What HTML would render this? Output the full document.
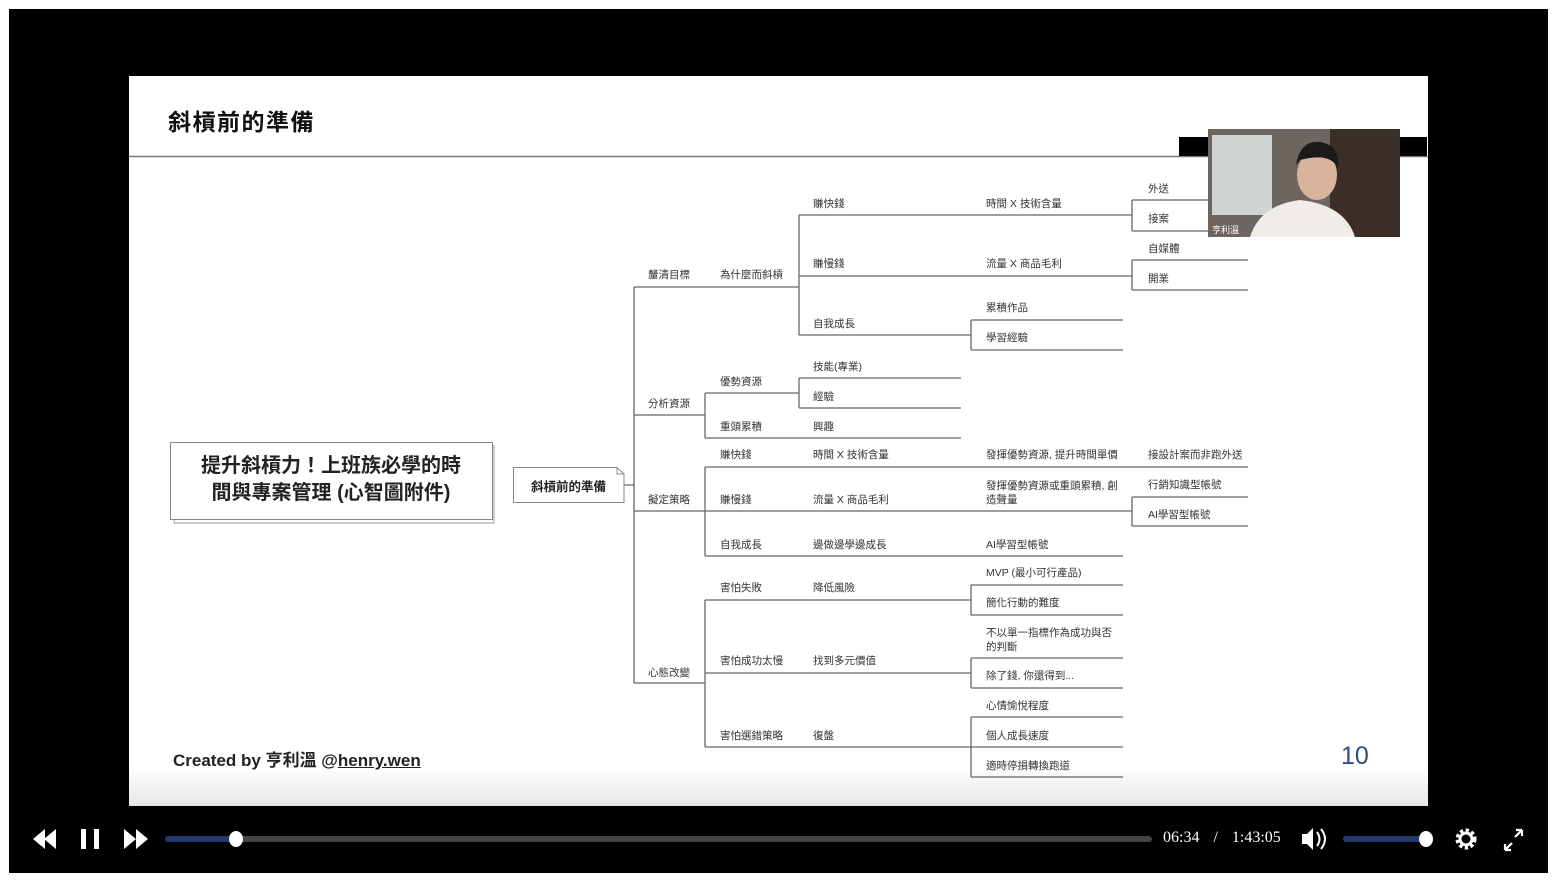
<!DOCTYPE html>
<html><head><meta charset="utf-8"><style>
*{margin:0;padding:0;box-sizing:border-box}
body{width:1558px;height:885px;background:#fff;position:relative;overflow:hidden;font-family:"Liberation Sans","Noto Sans CJK TC",sans-serif}
#blk{position:absolute;left:9px;top:9px;width:1539px;height:864px;background:#000}
#slide{position:absolute;left:129px;top:76px;width:1299px;height:730px;background:#fff;overflow:hidden}
.l{position:absolute;font-size:10.5px;color:#333;line-height:14px;white-space:nowrap;margin-top:1px}
svg{position:absolute;left:0;top:0}
</style></head><body>
<div id="blk"></div>
<div id="slide">
<div style="position:absolute;left:0;right:0;bottom:0;height:40px;background:linear-gradient(#fff,#e6e6e6)"></div>
</div>
<svg width="1558" height="885">
<line x1="129" y1="156.5" x2="1428" y2="156.5" stroke="#777" stroke-width="1.5"/>
<g stroke="#666" stroke-width="1.3" fill="none">
<path d="M634 287V683M624 485H634"/>
<path d="M634 287H799M799 215V335M799 215H1132M1132 200V231M1132 200H1210M1132 231H1248"/>
<path d="M799 276H1132M1132 260V290M1132 260H1248M1132 290H1248"/>
<path d="M799 335H971M971 320V350M971 320H1123M971 350H1123"/>
<path d="M634 415H705M705 393V438M705 393H799M799 378V408M799 378H961M799 408H961M705 438H961"/>
<path d="M634 511H705M705 467V556M705 467H1248M705 511H1132M1132 497V526M1132 497H1248M1132 526H1248M705 556H1123"/>
<path d="M634 683H705M705 600V747M705 600H971M971 585V615M971 585H1123M971 615H1123"/>
<path d="M705 673H971M971 658V688M971 658H1123M971 688H1123"/>
<path d="M705 747H971M971 717V777M971 717H1123M971 747H1123M971 777H1123"/>
</g>
<rect x="174" y="446" width="320" height="77" fill="#fff" stroke="#999"/>
<rect x="170.5" y="442.5" width="322" height="77" fill="#fff" stroke="#888"/>
<path d="M513.5 467.5H617L624 474V502.5H513.5Z" fill="#fff" stroke="#888"/>
<path d="M617 467.5V474H624" fill="none" stroke="#888"/>
<rect x="1179" y="137" width="248" height="19" fill="#000"/>
<rect x="1208" y="129" width="192" height="108" fill="#6d6660"/>
<rect x="1212" y="135" width="60" height="80" fill="#cfd3d3"/>
<rect x="1330" y="129" width="70" height="108" fill="#3b2e26"/>
<path d="M1250 237Q1260 205 1300 200Q1345 205 1355 237Z" fill="#f0ede8"/>
<ellipse cx="1317" cy="175" rx="20" ry="25" fill="#d9b49c"/>
<path d="M1296 165Q1300 140 1320 142Q1340 145 1338 168Q1330 152 1300 160Z" fill="#1c1a18"/>
<text x="1212" y="233" fill="#fff" font-size="9" font-family="Noto Sans CJK TC">亨利溫</text>
<path d="M33 839l12-10v20zM44 839l12-10v20z" fill="#fff"/>
<rect x="81" y="829" width="5" height="20" fill="#fff"/><rect x="94" y="829" width="5" height="20" fill="#fff"/>
<path d="M124 829l12 10-12 10zM136 829l12 10-12 10z" fill="#fff"/>
<rect x="165" y="836" width="987" height="6" rx="3" fill="#444"/>
<rect x="165" y="836" width="71" height="6" rx="3" fill="#1f3a6b"/>
<ellipse cx="236" cy="839" rx="7" ry="8" fill="#fff"/>
<path d="M1302 834h5l6-6v22l-6-6h-5z" fill="#fff"/>
<path d="M1317 832q5 7 0 14M1321 829q8 10 0 20" stroke="#fff" stroke-width="2" fill="none"/>
<rect x="1343" y="836" width="83" height="6" rx="3" fill="#1f3a6b"/>
<ellipse cx="1426" cy="839" rx="7" ry="8" fill="#fff"/>
<circle cx="1466" cy="839" r="8" fill="none" stroke="#fff" stroke-width="5" stroke-dasharray="3 2.3"/>
<circle cx="1466" cy="839" r="6" fill="none" stroke="#fff" stroke-width="3"/>
<path d="M1505 850l7-7M1505 850v-6M1505 850h6M1522 830l-7 7M1522 830v6M1522 830h-6" stroke="#fff" stroke-width="2.2" fill="none"/>
</svg>
<div style="position:absolute;left:168px;top:103px;font-size:23px;letter-spacing:1.5px;font-weight:bold;color:#111">斜槓前的準備</div>
<div style="position:absolute;left:166px;top:453px;width:330px;text-align:center;font-size:20px;font-weight:bold;line-height:27px;color:#222">提升斜槓力！上班族必學的時<br>間與專案管理 (心智圖附件)</div>
<div style="position:absolute;left:513px;top:476px;width:111px;text-align:center;font-size:12.5px;font-weight:bold;color:#222">斜槓前的準備</div>
<div style="position:absolute;left:173px;top:746px;font-size:17px;font-weight:bold;color:#222">Created by 亨利溫 @<span style="text-decoration:underline">henry.wen</span></div>
<div style="position:absolute;left:1341px;top:742px;font-size:25px;color:#2b4f82">10</div>
<div style="position:absolute;left:1163px;top:829px;font-size:16px;color:#fff;font-family:'Liberation Serif',serif;word-spacing:3px">06:34 &nbsp;/ &nbsp;1:43:05</div>

<div class="l" style="left:648px;top:267px">釐清目標</div>
<div class="l" style="left:720px;top:267px">為什麼而斜槓</div>
<div class="l" style="left:813px;top:196px">賺快錢</div>
<div class="l" style="left:986px;top:196px">時間 X 技術含量</div>
<div class="l" style="left:1148px;top:181px">外送</div>
<div class="l" style="left:1148px;top:211px">接案</div>
<div class="l" style="left:813px;top:256px">賺慢錢</div>
<div class="l" style="left:986px;top:256px">流量 X 商品毛利</div>
<div class="l" style="left:1148px;top:241px">自媒體</div>
<div class="l" style="left:1148px;top:271px">開業</div>
<div class="l" style="left:813px;top:316px">自我成長</div>
<div class="l" style="left:986px;top:300px">累積作品</div>
<div class="l" style="left:986px;top:330px">學習經驗</div>
<div class="l" style="left:648px;top:396px">分析資源</div>
<div class="l" style="left:720px;top:374px">優勢資源</div>
<div class="l" style="left:813px;top:359px">技能(專業)</div>
<div class="l" style="left:813px;top:389px">經驗</div>
<div class="l" style="left:720px;top:419px">重頭累積</div>
<div class="l" style="left:813px;top:419px">興趣</div>
<div class="l" style="left:720px;top:447px">賺快錢</div>
<div class="l" style="left:813px;top:447px">時間 X 技術含量</div>
<div class="l" style="left:986px;top:447px">發揮優勢資源, 提升時間單價</div>
<div class="l" style="left:1148px;top:447px">接設計案而非跑外送</div>
<div class="l" style="left:648px;top:492px">擬定策略</div>
<div class="l" style="left:720px;top:492px">賺慢錢</div>
<div class="l" style="left:813px;top:492px">流量 X 商品毛利</div>
<div class="l" style="left:986px;top:478px">發揮優勢資源或重頭累積, 創<br>造聲量</div>
<div class="l" style="left:1148px;top:477px">行銷知識型帳號</div>
<div class="l" style="left:1148px;top:507px">AI學習型帳號</div>
<div class="l" style="left:720px;top:537px">自我成長</div>
<div class="l" style="left:813px;top:537px">邊做邊學邊成長</div>
<div class="l" style="left:986px;top:537px">AI學習型帳號</div>
<div class="l" style="left:720px;top:580px">害怕失敗</div>
<div class="l" style="left:813px;top:580px">降低風險</div>
<div class="l" style="left:986px;top:565px">MVP (最小可行產品)</div>
<div class="l" style="left:986px;top:595px">簡化行動的難度</div>
<div class="l" style="left:986px;top:625px">不以單一指標作為成功與否<br>的判斷</div>
<div class="l" style="left:720px;top:653px">害怕成功太慢</div>
<div class="l" style="left:813px;top:653px">找到多元價值</div>
<div class="l" style="left:986px;top:668px">除了錢, 你還得到...</div>
<div class="l" style="left:648px;top:665px">心態改變</div>
<div class="l" style="left:986px;top:698px">心情愉悅程度</div>
<div class="l" style="left:720px;top:728px">害怕選錯策略</div>
<div class="l" style="left:813px;top:728px">復盤</div>
<div class="l" style="left:986px;top:728px">個人成長速度</div>
<div class="l" style="left:986px;top:758px">適時停損轉換跑道</div>
</body></html>
